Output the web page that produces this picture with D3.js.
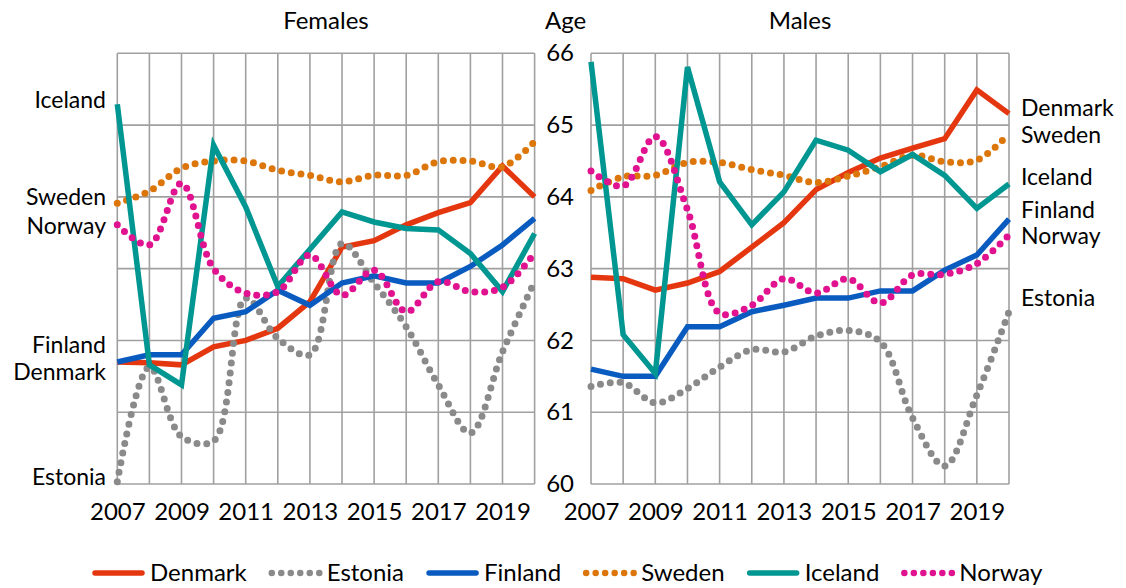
<!DOCTYPE html>
<html>
<head>
<meta charset="utf-8">
<script src="https://cdn.jsdelivr.net/npm/d3@7"></script>
<style>
  body { margin: 0; background: #fff; }
  svg text { font-family: Lato, "Open Sans", sans-serif; fill: #000; }
</style>
</head>
<body>
<div id="chart"></div>
<script>
// Datos
var years = [2007, 2008, 2009, 2010, 2011, 2012, 2013, 2014, 2015, 2016, 2017, 2018, 2019, 2020];
var yearTicks = [2007, 2009, 2011, 2013, 2015, 2017, 2019];
var ageTicks = [60, 61, 62, 63, 64, 65, 66];
var countries = ["Denmark", "Estonia", "Finland", "Sweden", "Iceland", "Norway"];

var femDenmark = [61.70, 61.69, 61.66, 61.91, 62.00, 62.17, 62.54, 63.30, 63.39, 63.61, 63.78, 63.92, 64.43, 64.00];
var femEstonia = [60.03, 61.63, 60.66, 60.60, 62.59, 62.03, 61.80, 63.35, 62.80, 62.19, 61.38, 60.71, 61.84, 62.82];
var femFinland = [61.70, 61.80, 61.80, 62.31, 62.40, 62.70, 62.49, 62.80, 62.90, 62.80, 62.80, 63.03, 63.33, 63.70];
var femSweden  = [63.91, 64.08, 64.40, 64.50, 64.50, 64.37, 64.30, 64.21, 64.30, 64.30, 64.49, 64.50, 64.42, 64.77];
var femIceland = [65.29, 61.66, 61.38, 64.72, 63.86, 62.75, 63.27, 63.79, 63.65, 63.56, 63.54, 63.21, 62.68, 63.49];
var femNorway  = [63.61, 63.33, 64.19, 63.00, 62.66, 62.68, 63.19, 62.63, 62.98, 62.40, 62.82, 62.68, 62.74, 63.22];

var maleDenmark = [62.88, 62.86, 62.70, 62.80, 62.96, 63.30, 63.64, 64.10, 64.34, 64.54, 64.68, 64.81, 65.49, 65.16];
var maleEstonia = [61.36, 61.41, 61.13, 61.33, 61.63, 61.87, 61.84, 62.06, 62.14, 61.98, 60.92, 60.25, 61.24, 62.40];
var maleFinland = [61.60, 61.50, 61.50, 62.19, 62.19, 62.40, 62.49, 62.59, 62.59, 62.69, 62.69, 62.98, 63.19, 63.69];
var maleSweden  = [64.09, 64.28, 64.30, 64.48, 64.48, 64.38, 64.30, 64.20, 64.29, 64.42, 64.58, 64.49, 64.51, 64.88];
var maleIceland = [65.88, 62.08, 61.54, 65.81, 64.21, 63.61, 64.07, 64.79, 64.65, 64.35, 64.59, 64.30, 63.84, 64.18];
var maleNorway  = [64.36, 64.15, 64.84, 63.82, 62.38, 62.49, 62.86, 62.66, 62.86, 62.52, 62.91, 62.92, 63.07, 63.47];

var femSeries = [femDenmark, femEstonia, femFinland, femSweden, femIceland, femNorway];
var maleSeries = [maleDenmark, maleEstonia, maleFinland, maleSweden, maleIceland, maleNorway];

// Estilos
var colors = ["#e5370f", "#8a8a8a", "#0a5bbf", "#dc760a", "#009691", "#e0128f"];
var dotted = [false, true, false, true, false, true];
// desplazamiento (px) de las etiquetas de los extremos para que no se solapen
var femLabelNudge = [10, -5, -17, -6, -4, 1];
var maleLabelNudge = [-6, -14, -9, 1, -7, 1];

var W = 1126, H = 588;
var plotTop = 53.3, plotBottom = 484;

var svg = d3.select("#chart").append("svg")
  .attr("width", W)
  .attr("height", H);

var y = d3.scaleLinear().domain([60, 66]).range([plotBottom, plotTop]);
var xF = d3.scaleLinear().domain([2007, 2020]).range([117.3, 534.6]);
var xM = d3.scaleLinear().domain([2007, 2020]).range([591, 1009]);

function drawPanel(x, series, title) {
  var g = svg.append("g");

  // rejilla
  g.selectAll(".vgrid").data(years).enter().append("line")
    .attr("x1", function(d) { return x(d); })
    .attr("x2", function(d) { return x(d); })
    .attr("y1", y(60)).attr("y2", y(66))
    .style("stroke", "#a0a0a0").style("stroke-width", 1.6);
  g.selectAll(".hgrid").data(ageTicks).enter().append("line")
    .attr("x1", x(2007)).attr("x2", x(2020))
    .attr("y1", function(d) { return y(d); })
    .attr("y2", function(d) { return y(d); })
    .style("stroke", "#a0a0a0").style("stroke-width", 1.6);

  // eje x
  var xAxis = d3.axisBottom(x)
    .tickValues(yearTicks)
    .tickFormat(d3.format("d"))
    .tickSize(0)
    .tickPadding(19);
  var ax = g.append("g")
    .attr("transform", "translate(0," + plotBottom + ")")
    .call(xAxis);
  ax.select(".domain").remove();
  ax.selectAll("text").style("font-size", "24px").style("font-family", "Lato, 'Open Sans', sans-serif");

  g.append("text")
    .attr("x", (x(2007) + x(2020)) / 2)
    .attr("y", 29)
    .style("text-anchor", "middle")
    .style("font-size", "24px")
    .text(title);

  // series
  series.forEach(function(vals, i) {
    var line = d3.line()
      .x(function(d, j) { return x(years[j]); })
      .y(function(d) { return y(d); })
      .curve(dotted[i] ? d3.curveCatmullRom.alpha(0.5) : d3.curveLinear);
    var p = g.append("path")
      .datum(vals)
      .attr("d", line)
      .style("fill", "none")
      .style("stroke", colors[i]);
    if (dotted[i]) {
      p.style("stroke-width", 7)
        .style("stroke-linecap", "round")
        .style("stroke-dasharray", "0 9.8");
    } else {
      p.style("stroke-width", 5.5)
        .style("stroke-linejoin", "miter");
    }
  });
  return g;
}

var gF = drawPanel(xF, femSeries, "Females");
var gM = drawPanel(xM, maleSeries, "Males");

// eje y (solo hombres)
var yAxis = d3.axisLeft(y).tickValues(ageTicks).tickFormat(d3.format("d")).tickSize(0).tickPadding(17);
var ay = svg.append("g")
  .attr("transform", "translate(" + xM(2007) + ",0)")
  .call(yAxis);
ay.select(".domain").remove();
ay.selectAll("text").style("font-size", "24px").style("font-family", "Lato, 'Open Sans', sans-serif");

svg.append("text")
  .attr("x", 545)
  .attr("y", 29)
  .style("font-size", "24px")
  .text("Age");

// etiquetas de los extremos
countries.forEach(function(c, i) {
  svg.append("text")
    .attr("x", 106)
    .attr("y", y(femSeries[i][0]) + femLabelNudge[i])
    .attr("dy", "0.35em")
    .style("text-anchor", "end")
    .style("font-size", "23px")
    .text(c);
  svg.append("text")
    .attr("x", 1021)
    .attr("y", y(maleSeries[i][maleSeries[i].length - 1]) + maleLabelNudge[i])
    .attr("dy", "0.35em")
    .style("font-size", "23px")
    .text(c);
});

// leyenda
var legend = svg.append("g").attr("transform", "translate(92,573)");
var lx = 0;
countries.forEach(function(c, i) {
  var item = legend.append("g").attr("transform", "translate(" + lx + ",0)");
  var sym = item.append("line")
    .attr("x1", 3).attr("x2", 50)
    .attr("y1", 0).attr("y2", 0)
    .style("stroke", colors[i]);
  if (dotted[i]) {
    sym.attr("x1", 3).attr("x2", 52)
      .style("stroke-width", 6.5)
      .style("stroke-linecap", "round")
      .style("stroke-dasharray", "0 9.5");
  } else {
    sym.style("stroke-width", 5.5).style("stroke-linecap", "round");
  }
  var t = item.append("text")
    .attr("x", 58)
    .attr("dy", "0.35em")
    .style("font-size", "24px")
    .text(c);
  lx += 58 + t.node().getComputedTextLength() + 22;
});
</script>
</body>
</html>
